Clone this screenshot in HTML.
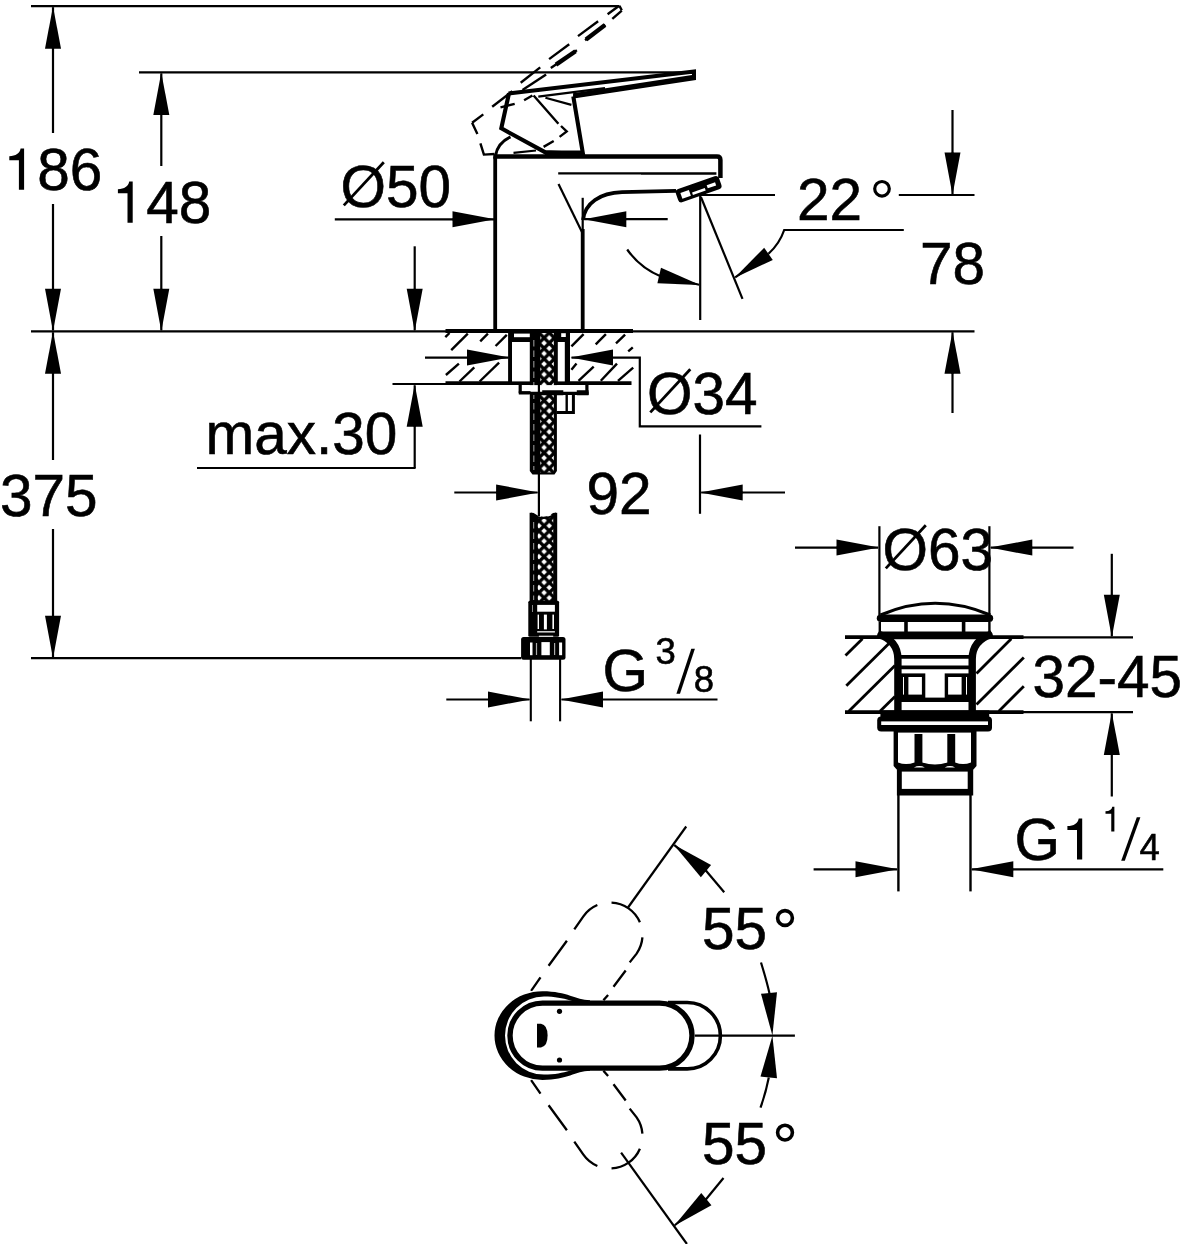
<!DOCTYPE html>
<html><head><meta charset="utf-8"><title>Dimension drawing</title>
<style>
html,body{margin:0;padding:0;background:#fff;}
svg{display:block;}
svg text{font-family:"Liberation Sans",sans-serif;fill:#000;stroke:#000;stroke-width:0.6px;}
svg .f{fill:#000;stroke:none;}
svg .w{fill:#fff;stroke:none;}
</style></head><body>
<svg width="1184" height="1244" viewBox="0 0 1184 1244" fill="none" stroke="#000" stroke-linecap="butt">
<defs><filter id="idf" x="-10%" y="-10%" width="120%" height="120%" color-interpolation-filters="sRGB"><feOffset dx="0" dy="0"/></filter></defs>
<rect x="0" y="0" width="1184" height="1244" class="w"/>
<line x1="31.00" y1="6.20" x2="619.50" y2="6.20" stroke-width="2.2" />
<line x1="139.00" y1="72.40" x2="694.00" y2="72.40" stroke-width="2.2" />
<line x1="31.00" y1="331.30" x2="974.50" y2="331.30" stroke-width="2.2" />
<line x1="31.00" y1="658.20" x2="521.00" y2="658.20" stroke-width="2.2" />
<polygon class="f" points="53.00,6.20 61.00,48.70 45.00,48.70"/>
<line x1="53.00" y1="7.20" x2="53.00" y2="48.70" stroke-width="2.2" />
<line x1="53.00" y1="45.00" x2="53.00" y2="133.00" stroke-width="2.2" />
<path class="f" transform="translate(9.30,189.80) scale(1.0)" d="M14.8,0 V-41.2 H11.3 C10.5,-36.6 6.5,-33.6 0,-33.6 V-29.5 H9.6 V0 Z"/>
<text x="37.20" y="190.00" font-size="58.5" text-anchor="start" >86</text>
<line x1="53.00" y1="204.00" x2="53.00" y2="292.00" stroke-width="2.2" />
<polygon class="f" points="53.00,331.30 45.00,288.80 61.00,288.80"/>
<line x1="53.00" y1="330.30" x2="53.00" y2="288.80" stroke-width="2.2" />
<polygon class="f" points="53.00,331.30 61.00,373.80 45.00,373.80"/>
<line x1="53.00" y1="332.30" x2="53.00" y2="373.80" stroke-width="2.2" />
<line x1="53.00" y1="370.00" x2="53.00" y2="460.00" stroke-width="2.2" />
<text x="0.00" y="515.70" font-size="58.5" text-anchor="start" >375</text>
<line x1="53.00" y1="529.00" x2="53.00" y2="618.00" stroke-width="2.2" />
<polygon class="f" points="53.00,658.20 45.00,615.70 61.00,615.70"/>
<line x1="53.00" y1="657.20" x2="53.00" y2="615.70" stroke-width="2.2" />
<polygon class="f" points="161.30,72.40 169.30,114.90 153.30,114.90"/>
<line x1="161.30" y1="73.40" x2="161.30" y2="114.90" stroke-width="2.2" />
<line x1="161.30" y1="112.00" x2="161.30" y2="166.00" stroke-width="2.2" />
<path class="f" transform="translate(117.90,222.80) scale(1.0)" d="M14.8,0 V-41.2 H11.3 C10.5,-36.6 6.5,-33.6 0,-33.6 V-29.5 H9.6 V0 Z"/>
<text x="146.30" y="222.50" font-size="58.5" text-anchor="start" >48</text>
<line x1="161.30" y1="236.00" x2="161.30" y2="292.00" stroke-width="2.2" />
<polygon class="f" points="161.30,331.30 153.30,288.80 169.30,288.80"/>
<line x1="161.30" y1="330.30" x2="161.30" y2="288.80" stroke-width="2.2" />
<text x="340.50" y="207.00" font-size="58.5" text-anchor="start" >O50</text>
<line x1="343.80" y1="205.40" x2="383.80" y2="162.20" stroke-width="2.8" />
<line x1="334.80" y1="219.30" x2="455.00" y2="219.30" stroke-width="2.2" />
<polygon class="f" points="495.00,219.30 452.50,227.30 452.50,211.30"/>
<line x1="494.00" y1="219.30" x2="452.50" y2="219.30" stroke-width="2.2" />
<line x1="414.70" y1="246.30" x2="414.70" y2="292.00" stroke-width="2.2" />
<polygon class="f" points="414.70,331.30 406.70,288.80 422.70,288.80"/>
<line x1="414.70" y1="330.30" x2="414.70" y2="288.80" stroke-width="2.2" />
<line x1="392.50" y1="384.00" x2="446.00" y2="384.00" stroke-width="2.2" />
<polygon class="f" points="414.70,384.30 422.70,426.80 406.70,426.80"/>
<line x1="414.70" y1="385.30" x2="414.70" y2="426.80" stroke-width="2.2" />
<line x1="414.70" y1="424.00" x2="414.70" y2="468.00" stroke-width="2.2" />
<line x1="197.00" y1="468.00" x2="415.60" y2="468.00" stroke-width="2.2" />
<text x="205.50" y="453.80" font-size="58.5" text-anchor="start" >max.30</text>
<line x1="425.00" y1="357.60" x2="470.00" y2="357.60" stroke-width="2.2" />
<polygon class="f" points="509.50,357.60 467.00,365.60 467.00,349.60"/>
<line x1="508.50" y1="357.60" x2="467.00" y2="357.60" stroke-width="2.2" />
<polygon class="f" points="570.50,357.60 613.00,349.60 613.00,365.60"/>
<line x1="571.50" y1="357.60" x2="613.00" y2="357.60" stroke-width="2.2" />
<path d="M608,357.6 H639.8 V426.4 H761.4" stroke-width="2.2" />
<text x="647.00" y="414.00" font-size="58.5" text-anchor="start" >O34</text>
<line x1="650.30" y1="412.40" x2="690.30" y2="369.20" stroke-width="2.8" />
<line x1="454.30" y1="492.50" x2="500.00" y2="492.50" stroke-width="2.2" />
<polygon class="f" points="538.60,492.50 496.10,500.50 496.10,484.50"/>
<line x1="537.60" y1="492.50" x2="496.10" y2="492.50" stroke-width="2.2" />
<text x="586.50" y="513.80" font-size="58.5" text-anchor="start" >92</text>
<line x1="700.00" y1="434.50" x2="700.00" y2="513.80" stroke-width="2.2" />
<polygon class="f" points="700.20,492.50 742.70,484.50 742.70,500.50"/>
<line x1="701.20" y1="492.50" x2="742.70" y2="492.50" stroke-width="2.2" />
<line x1="740.00" y1="492.50" x2="785.00" y2="492.50" stroke-width="2.2" />
<polygon class="f" points="583.80,219.20 626.30,211.20 626.30,227.20"/>
<line x1="584.80" y1="219.20" x2="626.30" y2="219.20" stroke-width="2.2" />
<line x1="622.00" y1="219.20" x2="667.70" y2="219.20" stroke-width="2.2" />
<line x1="530.80" y1="659.00" x2="530.80" y2="721.30" stroke-width="2.1" />
<line x1="560.10" y1="659.00" x2="560.10" y2="721.30" stroke-width="2.1" />
<line x1="446.30" y1="699.50" x2="492.00" y2="699.50" stroke-width="2.2" />
<polygon class="f" points="530.50,699.50 488.00,707.50 488.00,691.50"/>
<line x1="529.50" y1="699.50" x2="488.00" y2="699.50" stroke-width="2.2" />
<polygon class="f" points="560.50,699.50 603.00,691.50 603.00,707.50"/>
<line x1="561.50" y1="699.50" x2="603.00" y2="699.50" stroke-width="2.2" />
<line x1="600.00" y1="699.50" x2="717.50" y2="699.50" stroke-width="2.2" />
<text x="602.50" y="690.80" font-size="58.5" text-anchor="start" >G</text>
<g filter="url(#idf)"><text x="655.50" y="664.00" font-size="36.5" >3</text></g>
<polygon class="f" points="676.4,693.7 680,693.7 694.9,648.8 691.3,648.8"/>
<g filter="url(#idf)"><text x="693.70" y="692.40" font-size="36.5" >8</text></g>
<line x1="700.00" y1="195.00" x2="775.00" y2="195.00" stroke-width="2.2" />
<line x1="898.80" y1="195.00" x2="974.50" y2="195.00" stroke-width="2.2" />
<line x1="700.20" y1="195.50" x2="700.20" y2="320.00" stroke-width="2.2" />
<line x1="700.90" y1="197.00" x2="742.50" y2="298.80" stroke-width="2.2" />
<text x="797.00" y="219.50" font-size="58.5" text-anchor="start" >22</text>
<circle cx="882" cy="188.8" r="7.3" stroke-width="3.2"/>
<line x1="952.50" y1="110.00" x2="952.50" y2="156.00" stroke-width="2.2" />
<polygon class="f" points="952.50,195.00 944.50,152.50 960.50,152.50"/>
<line x1="952.50" y1="194.00" x2="952.50" y2="152.50" stroke-width="2.2" />
<text x="920.00" y="283.80" font-size="58.5" text-anchor="start" >78</text>
<polygon class="f" points="952.50,331.30 960.50,373.80 944.50,373.80"/>
<line x1="952.50" y1="332.30" x2="952.50" y2="373.80" stroke-width="2.2" />
<line x1="952.50" y1="370.00" x2="952.50" y2="413.00" stroke-width="2.2" />
<path d="M903.8,230 H784.2 C781.5,238 777,246 768.5,253.8" stroke-width="2.2" />
<polygon class="f" points="734.40,277.90 764.15,247.73 772.80,259.99"/>
<line x1="735.22" y1="277.32" x2="768.47" y2="253.86" stroke-width="2.2" />
<path d="M627.2,249.5 Q640,268 662,277" stroke-width="2.2" />
<polygon class="f" points="700.10,285.00 657.38,283.35 660.98,267.76"/>
<line x1="699.13" y1="284.78" x2="659.18" y2="275.55" stroke-width="2.2" />
<path d="M495.2,331 V156.6" stroke-width="3.8" />
<path d="M493.3,156.6 H717 Q720.4,156.6 720.4,160 V178" stroke-width="4.5" />
<line x1="582.70" y1="229.00" x2="582.70" y2="331.00" stroke-width="3.8" />
<line x1="582.70" y1="197.80" x2="582.70" y2="229.00" stroke-width="2.2" />
<line x1="558.20" y1="173.30" x2="641.00" y2="173.30" stroke-width="2.2" />
<line x1="641.00" y1="173.50" x2="716.40" y2="173.50" stroke-width="2.6" />
<line x1="558.50" y1="184.00" x2="582.20" y2="232.50" stroke-width="2.2" />
<path d="M583,220 C585,203 600,193 622,192.2 L676,190.8" stroke-width="3.8" />
<g transform="translate(698.5,188.5) rotate(-19.3)"><rect x="-23" y="-6.2" width="45.8" height="13.8" rx="3.6" class="f" stroke="none"/><rect x="-18.6" y="-1.8" width="9" height="6.2" class="w"/><rect x="-7.4" y="1.6" width="13.5" height="2.7" class="w"/><rect x="8.8" y="-0.4" width="8.9" height="3.3" class="w"/></g>
<path d="M509,93.3 L501.3,128.3 L545.4,152.4 L583,154 L573.3,96.4" stroke-width="4.1" stroke-linejoin="miter"/>
<path d="M545,153 H583" stroke-width="5" />
<path d="M508.5,93.5 L694,71.6 V78.4 L573.3,96.6" stroke-width="4.0" stroke-linejoin="miter"/>
<path d="M573.3,95.6 L694,77" stroke-width="4.6" />
<line x1="538.30" y1="96.60" x2="605.00" y2="88.20" stroke-width="2.2" />
<line x1="545.40" y1="97.80" x2="571.40" y2="104.90" stroke-width="2.2" />
<line x1="513.50" y1="152.80" x2="536.00" y2="150.50" stroke-width="2.2" />
<path d="M495.6,155.5 Q497.5,143 510.5,136.8" stroke-width="3" />
<line x1="607.60" y1="14.20" x2="618.80" y2="6.00" stroke-width="2.4" />
<line x1="578.00" y1="36.10" x2="598.10" y2="21.30" stroke-width="2.4" />
<line x1="549.10" y1="59.10" x2="569.20" y2="44.30" stroke-width="2.4" />
<line x1="520.70" y1="82.80" x2="540.20" y2="67.40" stroke-width="2.4" />
<line x1="492.20" y1="106.70" x2="512.30" y2="91.30" stroke-width="2.4" />
<line x1="472.10" y1="122.70" x2="483.30" y2="114.40" stroke-width="2.4" />
<line x1="612.30" y1="18.90" x2="621.80" y2="10.60" stroke-width="2.4" />
<line x1="585.10" y1="40.20" x2="605.20" y2="24.80" stroke-width="2.4" />
<line x1="550.80" y1="68.00" x2="576.90" y2="50.30" stroke-width="2.4" />
<line x1="522.50" y1="89.90" x2="546.10" y2="74.50" stroke-width="2.4" />
<line x1="586.00" y1="39.60" x2="605.00" y2="25.00" stroke-width="4.4" />
<line x1="556.00" y1="64.60" x2="575.50" y2="51.20" stroke-width="4.4" />
<line x1="619.40" y1="5.90" x2="621.80" y2="10.30" stroke-width="2.4" />
<path d="M472.1,122.7 L477.4,134 M480.4,143.4 L483.9,154.6 L494.6,154" stroke-width="2.4" />
<path d="M500.5,107.3 L514.7,103.8 M524.1,100.2 L532.4,95.5 M533.6,95.5 L558.4,123.8 M561,126 L566.7,131.5 L559.6,136.9 M553.7,141 L543.6,146.9" stroke-width="2.4" />
<line x1="445.50" y1="331.00" x2="633.00" y2="331.00" stroke-width="3.8" />
<line x1="445.50" y1="383.20" x2="631.50" y2="383.20" stroke-width="3.8" />
<line x1="509.80" y1="331.00" x2="509.80" y2="383.00" stroke-width="3.4" />
<line x1="568.30" y1="331.00" x2="568.30" y2="383.00" stroke-width="3.4" />
<line x1="445.30" y1="337.10" x2="449.50" y2="333.00" stroke-width="2.4" />
<line x1="451.20" y1="350.20" x2="467.80" y2="333.60" stroke-width="2.4" />
<line x1="480.20" y1="341.30" x2="487.90" y2="333.60" stroke-width="2.4" />
<line x1="495.60" y1="346.00" x2="506.80" y2="334.80" stroke-width="2.4" />
<line x1="445.90" y1="375.00" x2="458.90" y2="363.70" stroke-width="2.4" />
<line x1="459.50" y1="381.50" x2="474.30" y2="367.30" stroke-width="2.4" />
<line x1="479.60" y1="381.50" x2="499.10" y2="362.60" stroke-width="2.4" />
<line x1="571.40" y1="346.40" x2="583.60" y2="334.20" stroke-width="2.4" />
<line x1="595.70" y1="344.30" x2="605.90" y2="334.20" stroke-width="2.4" />
<line x1="616.00" y1="343.30" x2="625.10" y2="334.60" stroke-width="2.4" />
<line x1="628.20" y1="351.40" x2="632.80" y2="347.40" stroke-width="2.4" />
<line x1="571.40" y1="369.70" x2="576.50" y2="363.60" stroke-width="2.4" />
<line x1="578.50" y1="380.80" x2="593.70" y2="366.60" stroke-width="2.4" />
<line x1="600.80" y1="380.80" x2="617.00" y2="363.60" stroke-width="2.4" />
<line x1="618.00" y1="380.80" x2="633.20" y2="367.60" stroke-width="2.4" />
<rect x="511" y="333" width="56" height="49" class="f" stroke="none"/>
<rect x="514" y="333.6" width="23.6" height="3.6" class="w" stroke="none"/>
<rect x="512" y="342" width="18" height="39.4" class="w" stroke="none"/>
<rect x="557.8" y="342" width="7" height="39.4" class="w" stroke="none"/>
<rect x="561.2" y="333.2" width="4.6" height="3.8" class="w" stroke="none"/>
<defs><pattern id="xh" x="538.95" y="332.66" width="10.3" height="10.44" patternUnits="userSpaceOnUse"><rect width="10.3" height="10.44" fill="#000" stroke="none"/><path d="M5.15,-2.90 l2.8,2.9 l-2.8,2.9 l-2.8,-2.9z M5.15,7.54 l2.8,2.9 l-2.8,2.9 l-2.8,-2.9z M0.00,2.32 l2.8,2.9 l-2.8,2.9 l-2.8,-2.9z M10.30,2.32 l2.8,2.9 l-2.8,2.9 l-2.8,-2.9z" fill="#fff" stroke="none"/></pattern>
<pattern id="xh2" x="538.95" y="510.3" width="10.3" height="10.3" patternUnits="userSpaceOnUse"><rect width="10.3" height="10.3" fill="#000" stroke="none"/><path d="M5.15,-2.85 l2.8,2.85 l-2.8,2.85 l-2.8,-2.85z M5.15,7.45 l2.8,2.85 l-2.8,2.85 l-2.8,-2.85z M0.00,2.30 l2.8,2.85 l-2.8,2.85 l-2.8,-2.85z M10.30,2.30 l2.8,2.85 l-2.8,2.85 l-2.8,-2.85z" fill="#fff" stroke="none"/></pattern></defs>
<path class="f" d="M529.8,331 H556.9 V471 L554.5,474.4 H532.5 L529.8,471 Z"/>
<rect x="540.3" y="333" width="13.5" height="139.4" fill="url(#xh)" stroke="none"/>
<line x1="533.80" y1="340.00" x2="533.80" y2="470.00" stroke-width="1.2" stroke="#8a8a8a" stroke-dasharray="6.5 4"/>
<rect x="519" y="385.1" width="69.4" height="9.6" class="w"/>
<path d="M520.2,385 V393.2 M586.9,385 V394.6" stroke-width="3.2" />
<path d="M518.8,392.8 H530.5" stroke-width="3.4" />
<path d="M530,393.3 H588.5" stroke-width="3.2" />
<path d="M542.2,392.8 H563.3 M576.8,392.8 H588.5" stroke-width="5" />
<line x1="538.90" y1="385.00" x2="538.90" y2="392.00" stroke-width="2.2" />
<path d="M573.4,395 V412.4 H556.5" stroke-width="3" />
<line x1="566.70" y1="395.00" x2="566.70" y2="411.00" stroke-width="2.4" />
<rect x="529.6" y="512.8" width="27.6" height="90.2" class="f"/>
<rect x="537.8" y="513" width="15.4" height="89" fill="url(#xh2)" stroke="none"/>
<path class="w" d="M531.2,511 Q543.4,522.4 555.6,511 Z"/>
<path d="M530.6,513.2 Q543.4,523 556.2,513.2" stroke-width="1.8" />
<line x1="533.60" y1="522.00" x2="533.60" y2="600.00" stroke-width="1.2" stroke="#8a8a8a" stroke-dasharray="6.5 4"/>
<line x1="538.90" y1="474.00" x2="538.90" y2="516.40" stroke-width="2.2" />
<rect x="528.3" y="600.7" width="30.8" height="36" rx="1.5" class="f" stroke="none"/>
<rect x="537.2" y="604.9" width="17.7" height="6.8" class="w" stroke="none"/>
<rect x="537.6" y="614.6" width="1.4" height="14.4" class="w" stroke="none"/>
<rect x="543.9" y="614.6" width="3" height="14.8" class="w" stroke="none"/>
<rect x="552.4" y="614.6" width="1.6" height="14.4" class="w" stroke="none"/>
<rect x="538.9" y="635.7" width="14.3" height="1.1" class="w" stroke="none"/>
<rect x="537.2" y="631" width="17.7" height="1.6" fill="#ccc" stroke="none"/>
<rect x="532" y="605" width="1" height="7" fill="#888" stroke="none"/>
<rect x="521.1" y="637" width="44.4" height="22.8" rx="2.5" class="f" stroke="none"/>
<rect x="530" y="642.5" width="2.5" height="12.7" class="w" stroke="none"/>
<rect x="541.4" y="642.1" width="8.4" height="13.1" class="w" stroke="none"/>
<rect x="559.1" y="642.5" width="3" height="12.7" class="w" stroke="none"/>
<rect x="535.9" y="643" width="1.2" height="12" fill="#aaa" stroke="none"/>
<rect x="554" y="643" width="1.2" height="12" fill="#aaa" stroke="none"/>
<line x1="879.40" y1="526.20" x2="879.40" y2="615.00" stroke-width="2.2" />
<line x1="989.40" y1="526.20" x2="989.40" y2="615.00" stroke-width="2.2" />
<line x1="795.00" y1="547.60" x2="840.00" y2="547.60" stroke-width="2.2" />
<polygon class="f" points="879.00,547.60 836.50,555.60 836.50,539.60"/>
<line x1="878.00" y1="547.60" x2="836.50" y2="547.60" stroke-width="2.2" />
<polygon class="f" points="989.80,547.60 1032.30,539.60 1032.30,555.60"/>
<line x1="990.80" y1="547.60" x2="1032.30" y2="547.60" stroke-width="2.2" />
<line x1="1028.00" y1="547.60" x2="1073.50" y2="547.60" stroke-width="2.2" />
<text x="882.50" y="570.00" font-size="58.5" text-anchor="start" >O63</text>
<line x1="885.80" y1="568.40" x2="925.80" y2="525.20" stroke-width="2.8" />
<line x1="1111.80" y1="553.80" x2="1111.80" y2="600.00" stroke-width="2.2" />
<polygon class="f" points="1111.80,637.30 1103.80,594.80 1119.80,594.80"/>
<line x1="1111.80" y1="636.30" x2="1111.80" y2="594.80" stroke-width="2.2" />
<polygon class="f" points="1111.80,712.40 1119.80,754.90 1103.80,754.90"/>
<line x1="1111.80" y1="713.40" x2="1111.80" y2="754.90" stroke-width="2.2" />
<line x1="1111.80" y1="751.00" x2="1111.80" y2="796.50" stroke-width="2.2" />
<text x="1032.50" y="696.80" font-size="58.5" text-anchor="start" >32-45</text>
<line x1="845.00" y1="637.20" x2="1023.50" y2="637.20" stroke-width="3.8" />
<line x1="1023.00" y1="637.40" x2="1133.00" y2="637.40" stroke-width="2.2" />
<line x1="845.00" y1="712.20" x2="1023.50" y2="712.20" stroke-width="3.8" />
<line x1="1023.00" y1="712.20" x2="1133.00" y2="712.20" stroke-width="2.2" />
<line x1="845.50" y1="655.50" x2="862.50" y2="638.80" stroke-width="2.8" />
<line x1="846.30" y1="685.80" x2="893.00" y2="639.50" stroke-width="2.8" />
<line x1="848.80" y1="711.30" x2="895.00" y2="665.50" stroke-width="2.8" />
<line x1="880.00" y1="711.30" x2="895.00" y2="696.50" stroke-width="2.8" />
<line x1="976.50" y1="673.50" x2="1011.30" y2="638.80" stroke-width="2.8" />
<line x1="976.50" y1="704.50" x2="1023.80" y2="657.50" stroke-width="2.8" />
<line x1="998.80" y1="711.30" x2="1023.80" y2="686.30" stroke-width="2.8" />
<path d="M880.5,615 Q935,591.5 990.3,615" stroke-width="3.2" />
<line x1="880.50" y1="618.30" x2="989.50" y2="618.30" stroke-width="7.4" stroke-linecap="round"/>
<line x1="879.80" y1="622.00" x2="879.80" y2="632.00" stroke-width="2.4" />
<line x1="989.40" y1="622.00" x2="989.40" y2="632.00" stroke-width="2.4" />
<line x1="906.00" y1="622.00" x2="906.00" y2="632.00" stroke-width="3.6" />
<line x1="963.60" y1="622.00" x2="963.60" y2="632.00" stroke-width="3.6" />
<line x1="881.00" y1="635.40" x2="989.00" y2="635.40" stroke-width="7.6" stroke-linecap="round"/>
<path d="M878,634 C890,638 897.9,646 897.9,659 V712" stroke-width="7.4" />
<path d="M992,634 C980,638 972.2,646 972.2,659 V712" stroke-width="7.4" />
<line x1="897.00" y1="656.80" x2="973.00" y2="656.80" stroke-width="3.8" />
<line x1="899.00" y1="667.40" x2="971.00" y2="667.40" stroke-width="3.8" />
<rect x="901" y="673.4" width="68" height="25" class="f"/>
<rect x="908.4" y="677" width="13.5" height="17.6" class="w"/>
<rect x="948.1" y="677" width="13.5" height="17.6" class="w"/>
<rect x="925.3" y="673" width="19.4" height="24.6" class="w"/>
<rect x="903" y="677" width="1" height="17.6" class="w"/>
<rect x="966" y="677" width="1" height="17.6" class="w"/>
<line x1="901.00" y1="700.00" x2="969.00" y2="700.00" stroke-width="3.8" />
<rect x="880.4" y="710.4" width="108.8" height="12" class="f"/>
<rect x="877.2" y="716.5" width="114.8" height="14.9" rx="4" class="f"/>
<rect x="881.2" y="721.4" width="106.8" height="3.6" class="w"/>
<path class="f" d="M893.6,730 H976.5 V766 L972.8,770.3 H897.4 L893.6,766 Z"/>
<rect x="898" y="730" width="73" height="1.2" class="f"/>
<rect x="898" y="732.6" width="73" height="1.4" class="w"/>
<path class="w" d="M898,734 H914.5 V762.5 Q906,765.5 898,762.5 Z"/>
<path class="w" d="M922.4,734 H947.3 V762.5 Q935,766.5 922.4,762.5 Z"/>
<path class="w" d="M955.2,734 H971 V762.5 Q963,765.5 955.2,762.5 Z"/>
<path class="w" d="M913.9,767.4 Q919.4,764.6 924.9,767.4 Z"/>
<path class="w" d="M944.7,767.4 Q950,764.6 955.1,767.4 Z"/>
<rect x="896.9" y="770" width="76.3" height="25.5" class="f"/>
<rect x="901.8" y="771.6" width="65.9" height="17.3" class="w"/>
<line x1="898.40" y1="795.00" x2="898.40" y2="891.40" stroke-width="2.4" />
<line x1="970.50" y1="795.00" x2="970.50" y2="891.40" stroke-width="2.4" />
<line x1="813.60" y1="869.30" x2="858.00" y2="869.30" stroke-width="2.2" />
<polygon class="f" points="898.00,869.30 855.50,877.30 855.50,861.30"/>
<line x1="897.00" y1="869.30" x2="855.50" y2="869.30" stroke-width="2.2" />
<polygon class="f" points="970.80,869.30 1013.30,861.30 1013.30,877.30"/>
<line x1="971.80" y1="869.30" x2="1013.30" y2="869.30" stroke-width="2.2" />
<line x1="1010.00" y1="869.30" x2="1163.30" y2="869.30" stroke-width="2.2" />
<text x="1014.50" y="859.60" font-size="58.5" text-anchor="start" >G</text>
<path class="f" transform="translate(1067.40,859.60) scale(1.0)" d="M14.8,0 V-41.2 H11.3 C10.5,-36.6 6.5,-33.6 0,-33.6 V-29.5 H9.6 V0 Z"/>
<path class="f" transform="translate(1105.50,831.50) scale(0.6)" d="M14.8,0 V-41.2 H11.3 C10.5,-36.6 6.5,-33.6 0,-33.6 V-29.5 H9.6 V0 Z"/>
<polygon class="f" points="1121.2,860.7 1124.8,860.7 1140.4,817.3 1136.8,817.3"/>
<g filter="url(#idf)"><text x="1139.50" y="859.60" font-size="36.5" >4</text></g>
<path d="M531.1,990.8 L540.5,977.3 M548.6,965.8 L566.9,940.8 M574.3,929.3 L583.38,916.36 A32.5,32.5 0 0 1 597.35,905.06 M611.53,902.54 A32.5,32.5 0 0 1 639.92,922.30 M642.41,937.44 A32.5,32.5 0 0 1 636.62,953.64 L629.7,962.4 M625.7,970.5 L613.5,986.8 M608.1,994.9 L603.4,1000.3" stroke-width="2.3"/>
<path d="M531.1,990.8 L540.5,977.3 M548.6,965.8 L566.9,940.8 M574.3,929.3 L583.38,916.36 A32.5,32.5 0 0 1 597.35,905.06 M611.53,902.54 A32.5,32.5 0 0 1 639.92,922.30 M642.41,937.44 A32.5,32.5 0 0 1 636.62,953.64 L629.7,962.4 M625.7,970.5 L613.5,986.8 M608.1,994.9 L603.4,1000.3" stroke-width="2.3" transform="translate(0,2071) scale(1,-1)"/>
<path d="M540,990.3 A45,45 0 0 0 540,1080.3 C570,1078 575,1069.5 600,1069.5 H688 A34,34 0 0 0 688,1001.0999999999999 H600 C575,1001 570,992 540,990.3Z" class="w" stroke="none"/>
<path class="f" d="M590,1000.2 C575,1000 568,991.2 542.5,991.2 A48,44.4 0 0 0 494.5,1035.6 A48,44.4 0 0 0 542.5,1080 C568,1080 575,1071 590,1070.8 L590,1067 C575,1067 566,1074.6 544,1074.6 A39,39 0 0 1 505,1035.6 A39,39 0 0 1 544,996.6 C566,996.6 575,1004 590,1004 Z"/>
<path d="M542.5,1003.1 H659.5 A32.5,32.5 0 0 1 659.5,1068.1 H542.5 A32.5,32.5 0 0 1 542.5,1003.1Z" stroke-width="5.4"/>
<path d="M668,1002.5 H687.2 A33.2,33.2 0 0 1 687.2,1068.9 H668" stroke-width="3.6" />
<line x1="695.00" y1="1035.60" x2="794.90" y2="1035.60" stroke-width="2.2" />
<circle cx="559.5" cy="1011.3" r="2.6" class="f" stroke="none"/><circle cx="559.5" cy="1060" r="2.6" class="f" stroke="none"/>
<path d="M537,1023.8 H541 Q547.6,1025 547.6,1035.6 Q547.6,1046.4 541,1047.5 H537Z" class="f" stroke="none"/>
<line x1="628.00" y1="907.50" x2="686.20" y2="826.50" stroke-width="2.2" />
<line x1="621.10" y1="1152.60" x2="686.90" y2="1244.00" stroke-width="2.2" />
<polygon class="f" points="673.60,844.40 711.06,865.01 700.86,877.34"/>
<line x1="674.37" y1="845.04" x2="705.96" y2="871.17" stroke-width="2.2" />
<line x1="705.00" y1="869.50" x2="724.20" y2="892.30" stroke-width="2.2" />
<polygon class="f" points="674.00,1225.90 701.26,1192.96 711.46,1205.29"/>
<line x1="674.77" y1="1225.26" x2="706.36" y2="1199.13" stroke-width="2.2" />
<line x1="705.00" y1="1200.50" x2="723.50" y2="1178.00" stroke-width="2.2" />
<text x="702.00" y="949.10" font-size="58.5" text-anchor="start" >55</text>
<circle cx="785" cy="918" r="7.4" stroke-width="3.6"/>
<text x="702.00" y="1164.00" font-size="58.5" text-anchor="start" >55</text>
<circle cx="785" cy="1132.6" r="7.4" stroke-width="3.6"/>
<path d="M761,962.5 Q767,982 769.6,994" stroke-width="2.2" />
<polygon class="f" points="772.4,1035.5 761,993.8 777,992.2"/>
<polygon class="f" points="772.4,1035.8 760.5,1076.6 777,1078.2"/>
<path d="M768.8,1077.5 Q766,1092 760.5,1107.7" stroke-width="2.2" />
</svg>
</body></html>
